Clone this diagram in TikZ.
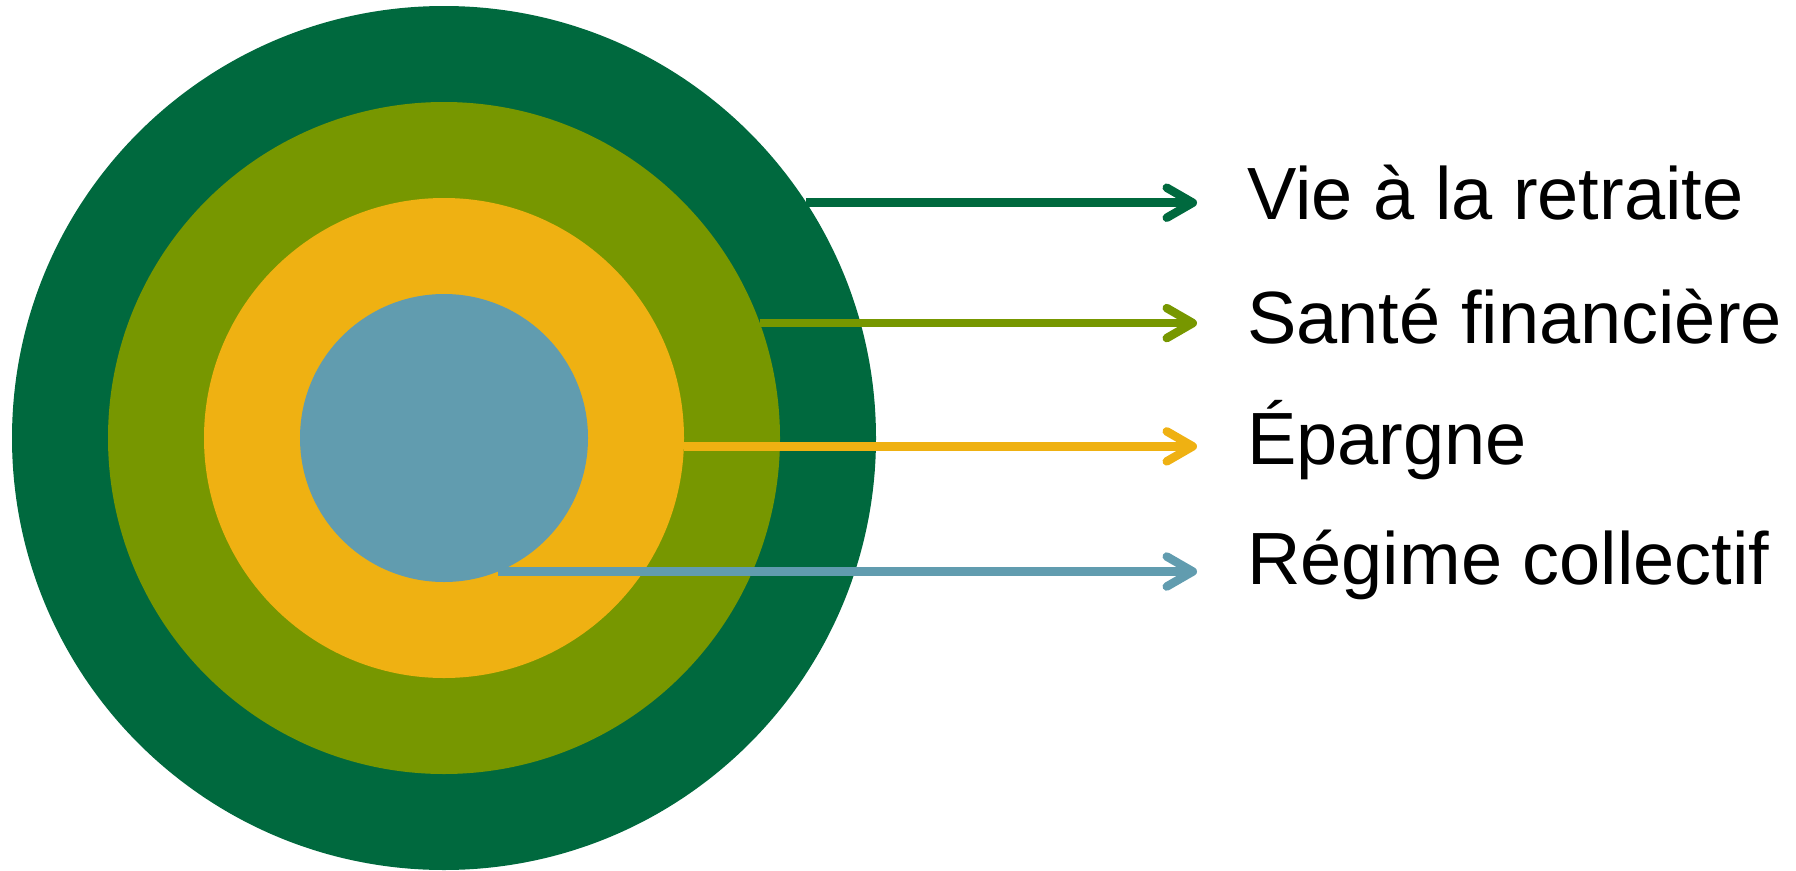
\documentclass[tikz,border=0pt]{standalone}
\usepackage{fontspec}
\setmainfont{Liberation Sans}
\usetikzlibrary{arrows.meta}
\definecolor{cdark}{HTML}{00693E}
\definecolor{colive}{HTML}{779700}
\definecolor{cyellow}{HTML}{EFB112}
\definecolor{cblue}{HTML}{619CAF}
\tikzset{
  ring/.style={circle,inner sep=0pt,outer sep=0pt,draw=none,minimum size=#1},
  arr/.style={line width=8.5pt,-{Straight Barb[length=26pt,width=30pt,round]}},
  lbl/.style={anchor=base west,inner sep=0pt,font=\fontsize{74}{80}\selectfont}
}
\begin{document}
\begin{tikzpicture}[x=1pt,y=-1pt]
\useasboundingbox (0,0) rectangle (1796,870);
\node[ring=864pt,fill=cdark] (outer) at (444,438) {};
\node[ring=672pt,fill=colive] (green) at (444,438) {};
\node[ring=480pt,fill=cyellow] (yellow) at (444,438) {};
\node[ring=288pt,fill=cblue] (blue) at (444,438) {};
\coordinate (t1) at (1197,199);
\coordinate (t2) at (1197,323);
\coordinate (t3) at (1197,447);
\coordinate (t4) at (1197,572);
\node[lbl] (l1) at (1247,219) {Vie à la retraite};
\node[lbl] (l2) at (1247,343) {Santé financière};
\node[lbl] (l3) at (1247,464) {Épargne};
\node[lbl] (l4) at (1247,584) {Régime collectif};
\draw[arr,cdark] (outer.33.7) -- (outer.33.7 -| t1);
\draw[arr,colive] (green.20) -- (green.20 -| t2);
\draw[arr,cyellow] (yellow.-2.1) -- (yellow.-2.1 -| t3);
\draw[arr,cblue] (blue.-68.5) -- (blue.-68.5 -| t4);
\end{tikzpicture}
\end{document}
